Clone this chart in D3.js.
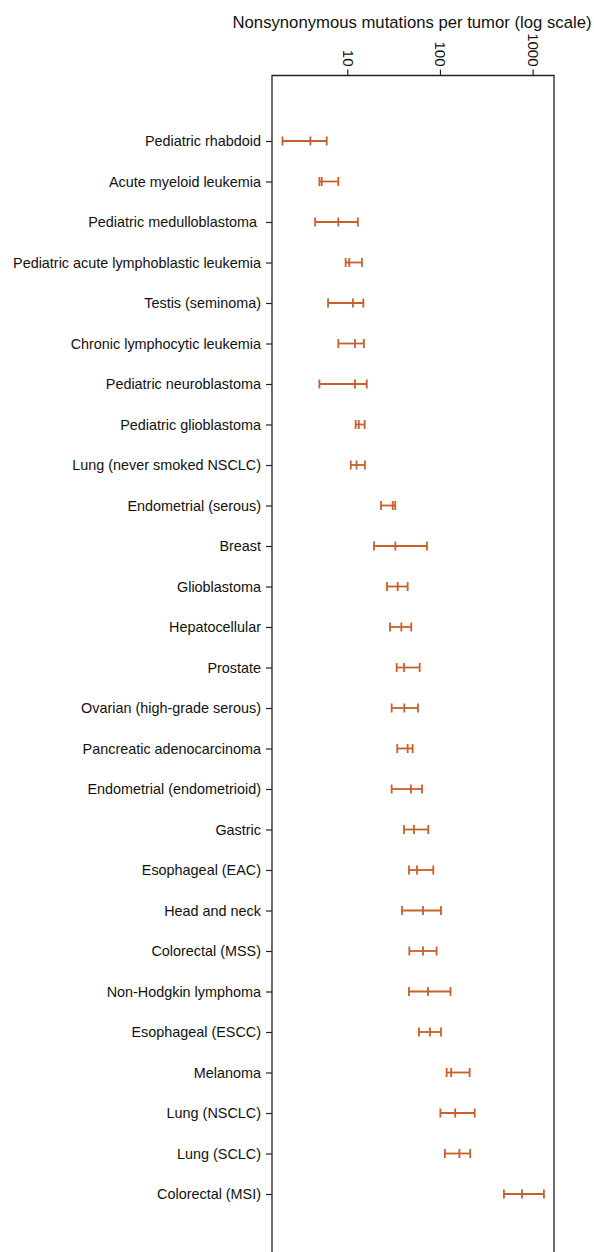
<!DOCTYPE html>
<html>
<head>
<meta charset="utf-8">
<script src="https://cdn.jsdelivr.net/npm/d3@7"></script>
<style>
  html, body { margin: 0; padding: 0; background: #fff; }
  svg { display: block; font-family: "Liberation Sans", Arial, Helvetica, sans-serif; }
</style>
</head>
<body>
<svg id="chart" width="594" height="1252"></svg>
<script>
// Tumor types, top to bottom
const categories = [
  "Pediatric rhabdoid",
  "Acute myeloid leukemia",
  "Pediatric medulloblastoma ",
  "Pediatric acute lymphoblastic leukemia",
  "Testis (seminoma)",
  "Chronic lymphocytic leukemia",
  "Pediatric neuroblastoma",
  "Pediatric glioblastoma",
  "Lung (never smoked NSCLC)",
  "Endometrial (serous)",
  "Breast",
  "Glioblastoma",
  "Hepatocellular",
  "Prostate",
  "Ovarian (high-grade serous)",
  "Pancreatic adenocarcinoma",
  "Endometrial (endometrioid)",
  "Gastric",
  "Esophageal (EAC)",
  "Head and neck",
  "Colorectal (MSS)",
  "Non-Hodgkin lymphoma",
  "Esophageal (ESCC)",
  "Melanoma",
  "Lung (NSCLC)",
  "Lung (SCLC)",
  "Colorectal (MSI)"
];

// Lower bound, median and upper bound of mutations per tumor
const lower  = [2.0, 5.0, 4.5, 9.6, 6.2, 8.0, 5.0, 12.3, 10.9, 23.1, 19.4, 26.8, 28.9, 34.1, 30.1, 34.6, 30.1, 40.9, 46.3, 38.9, 46.7, 46.3, 59.3, 118, 101, 113, 490];
const median = [4.0, 5.3, 8.0, 10.5, 11.5, 12.1, 12.1, 13.3, 12.6, 30.9, 33.0, 35.0, 38.3, 40.9, 41.2, 44.8, 48.6, 52.4, 56.5, 65.6, 65.6, 74.2, 78.0, 132, 146, 162, 767];
const upper  = [6.0, 8.0, 13.0, 14.4, 14.9, 15.1, 16.2, 15.4, 15.5, 32.9, 72.4, 44.8, 49.0, 60.4, 57.9, 50.7, 64.0, 74.8, 84.7, 102.5, 92.0, 130, 102.5, 209, 237, 212, 1324];

const xTicks = [10, 100, 1000];
const xTitle = "Nonsynonymous mutations per tumor (log scale)";

const rows = categories.map((c, i) => ({ name: c, lo: lower[i], mid: median[i], hi: upper[i] }));

const svg = d3.select("#chart");
const color = "#c8602c";

const plotLeft = 272, plotRight = 554, plotTop = 75.5, plotBottom = 1270;

const x = d3.scaleLog().domain([1.54, 1700]).range([plotLeft, plotRight]);
const y = d3.scalePoint().domain(categories).range([141, 1194]);

// Plot frame (open at the bottom edge of the page)
svg.append("path")
  .attr("d", `M${plotLeft},${plotBottom}V${plotTop}H${plotRight}V${plotBottom}`)
  .attr("fill", "none")
  .attr("stroke", "#222")
  .attr("stroke-width", 1.3);

// Top axis with rotated tick labels
const xAxis = svg.append("g")
  .attr("transform", `translate(0,${plotTop})`)
  .call(d3.axisTop(x).tickValues(xTicks).tickFormat(d3.format("d")).tickSize(6).tickPadding(0));
xAxis.select(".domain").remove();
xAxis.selectAll(".tick line").attr("stroke", "#222").attr("stroke-width", 1.2);
xAxis.selectAll(".tick text")
  .attr("transform", "translate(0,-9) rotate(90)")
  .attr("x", 0)
  .attr("y", 0)
  .attr("dy", "0.35em")
  .attr("text-anchor", "end")
  .attr("font-size", 15)
  .attr("fill", "#111");

// Axis title
svg.append("text")
  .attr("x", 412)
  .attr("y", 28)
  .attr("text-anchor", "middle")
  .attr("font-size", 16.7)
  .attr("fill", "#111")
  .text(xTitle);

// Left axis with category labels
const yAxis = svg.append("g")
  .attr("transform", `translate(${plotLeft},0)`)
  .call(d3.axisLeft(y).tickSize(6).tickPadding(5));
yAxis.select(".domain").remove();
yAxis.selectAll(".tick line").attr("stroke", "#222").attr("stroke-width", 1.2);
yAxis.selectAll(".tick text")
  .style("white-space", "pre")
  .attr("font-size", 14.4)
  .attr("fill", "#111");

// Range bars with end caps and median mark
const capH = 4.5;
const g = svg.append("g")
  .attr("stroke", color)
  .attr("stroke-width", 1.8)
  .attr("fill", "none");

const bars = g.selectAll("g.bar").data(rows).join("g").attr("class", "bar");
bars.append("line")
  .attr("x1", d => x(d.lo)).attr("x2", d => x(d.hi))
  .attr("y1", d => y(d.name)).attr("y2", d => y(d.name));
["lo", "mid", "hi"].forEach(k => {
  bars.append("line")
    .attr("x1", d => x(d[k])).attr("x2", d => x(d[k]))
    .attr("y1", d => y(d.name) - capH).attr("y2", d => y(d.name) + capH);
});
</script>
</body>
</html>
